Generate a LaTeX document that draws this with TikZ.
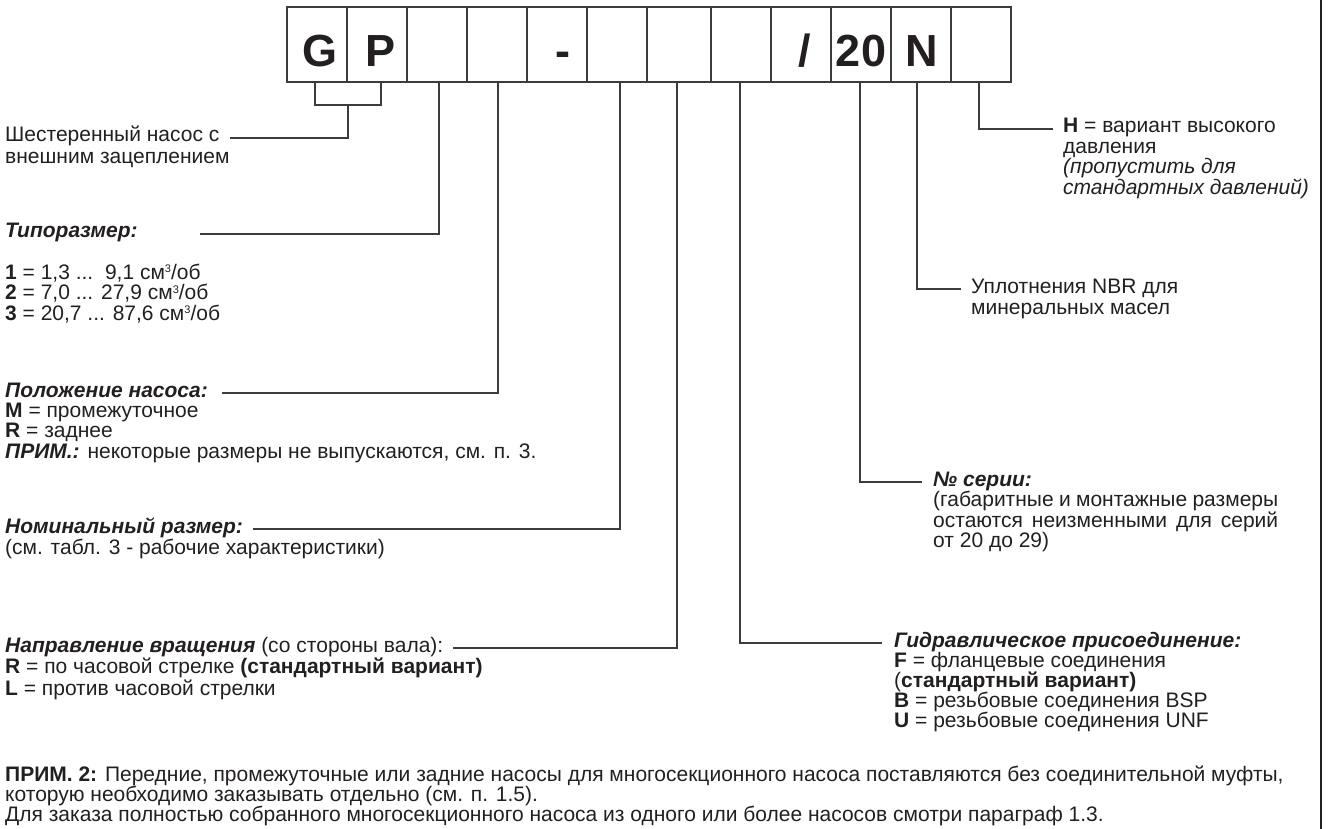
\documentclass[tikz,border=0pt]{standalone}
\usepackage{fontspec}
\setmainfont{Liberation Sans}
\definecolor{ink}{HTML}{231F20}
\definecolor{rulec}{HTML}{3C3C3C}
\newcommand{\cmcub}{{\fontsize{11}{11}\selectfont\raisebox{6.5pt}{3}}}
\begin{document}
\begin{tikzpicture}[x=1pt,y=-1pt,
  txt/.style={font=\fontsize{21}{21.5}\selectfont, anchor=base west, inner sep=0pt, text=ink},
  cell/.style={draw=rulec, line width=1.3pt, minimum height=75pt, inner sep=0pt, minimum width=60pt},
  big/.style={font=\fontsize{45}{45}\selectfont\bfseries, anchor=base, inner sep=0pt, text=ink},
  conn/.style={draw=rulec, line width=1.1pt},
]
\useasboundingbox (0,0) rectangle (1336,829);

% code boxes
\node[cell] (b1) at (317,44.5) {};
\node[cell] (b2) at (377,44.5) {};
\node[cell] (b3) at (437,44.5) {};
\node[cell] (b4) at (497,44.5) {};
\node[cell] (b5) at (557,44.5) {};
\node[cell] (b6) at (617,44.5) {};
\node[cell, minimum width=64pt] (b7) at (679,44.5) {};
\node[cell] (b8) at (741,44.5) {};
\node[cell] (b9) at (801,44.5) {};
\node[cell] (b10) at (861,44.5) {};
\node[cell] (b11) at (921,44.5) {};
\node[cell] (b12) at (981,44.5) {};

\node[big] (lG) at (320,67) {G};
\node[big] (lP) at (381,67) {P};
\node[big] (lD) at (563,67) {-};
\node[big] (lS) at (805,67) {/};
\node[big] (l20) at (861,67) {20};
\node[big] (lN) at (922,67) {N};

% left column texts
\node[txt] (gp1) at (5,142) {Шестеренный насос с};
\node[txt] (gp2) at (5,164) {внешним зацеплением};

\node[txt] (t1) at (5,238) {\textbf{\textit{Типоразмер:}}};
\node[txt] (t2) at (5,279) {\textbf{1} = 1,3 ...\ \ 9,1 см\cmcub/об};
\node[txt] (t3) at (5,299.5) {\textbf{2} = 7,0 ... 27,9 см\cmcub/об};
\node[txt] (t4) at (5,320) {\textbf{3} = 20,7 ... 87,6 см\cmcub/об};

\node[txt] (p1) at (5,397) {\textbf{\textit{Положение насоса:}}};
\node[txt] (p2) at (5,417) {\textbf{M} = промежуточное};
\node[txt] (p3) at (5,437.5) {\textbf{R} = заднее};
\node[txt] (p4) at (5,458) {\textbf{\textit{ПРИМ.:}} некоторые размеры не выпускаются, см. п. 3.};

\node[txt] (n1) at (5,533) {\textbf{\textit{Номинальный размер:}}};
\node[txt] (n2) at (5,554) {(см. табл. 3 - рабочие характеристики)};

\node[txt] (d1) at (5,652) {\textbf{\textit{Направление вращения}} (со стороны вала):};
\node[txt] (d2) at (5,673.5) {\textbf{R} = по часовой стрелке \textbf{(стандартный вариант)}};
\node[txt] (d3) at (5,695) {\textbf{L} = против часовой стрелки};

% right column texts
\node[txt] (h1) at (1063,133) {\textbf{H} = вариант высокого};
\node[txt] (h2) at (1063,153.5) {давления};
\node[txt] (h3) at (1063,174) {\textit{(пропустить для}};
\node[txt] (h4) at (1063,194.5) {\textit{стандартных давлений)}};

\node[txt] (u1) at (971,293) {Уплотнения NBR для};
\node[txt] (u2) at (971,314) {минеральных масел};

\node[txt] (s1) at (933,486) {\textbf{\textit{№ серии:}}};
\node[txt] (s2) at (933,506.5) {\makebox[345pt][s]{(габаритные и монтажные размеры}};
\node[txt] (s3) at (933,527) {\makebox[345pt][s]{остаются неизменными для серий}};
\node[txt] (s4) at (933,547.5) {от 20 до 29)};

\node[txt] (g1) at (894,647) {\textbf{\textit{Гидравлическое присоединение:}}};
\node[txt] (g2) at (894,667) {\textbf{F} = фланцевые соединения};
\node[txt] (g3) at (894,687) {(\textbf{стандартный вариант)}};
\node[txt] (g4) at (894,707) {\textbf{B} = резьбовые соединения BSP};
\node[txt] (g5) at (894,727) {\textbf{U} = резьбовые соединения UNF};

% bottom notes
\node[txt] (m1) at (5,781) {\textbf{ПРИМ. 2:} Передние, промежуточные или задние насосы для многосекционного насоса поставляются без соединительной муфты,};
\node[txt] (m2) at (5,801) {которую необходимо заказывать отдельно (см. п. 1.5).};
\node[txt] (m3) at (5,821) {Для заказа полностью собранного многосекционного насоса из одного или более насосов смотри параграф 1.3.};

% connector end points
\coordinate (gpbar) at (348,105);
\coordinate (cGP) at (230,138);
\coordinate (c3) at (200,234);
\path (p1.base east) ++(14,-4) coordinate (c4);
\path (n1.base east) ++(10,-4) coordinate (c6);
\path (d1.base east) ++(9,-4) coordinate (c7);
\coordinate (c8) at (882,643);
\coordinate (c10) at (922,482);
\coordinate (c11) at (961,289);
\coordinate (c12) at (1053,129);

% connectors
\draw[conn] ([xshift=-2pt]b1.south) |- (gpbar) -| ([xshift=4pt]b2.south);
\draw[conn] (gpbar) |- (cGP);
\draw[conn] ([xshift=2pt]b3.south) |- (c3);
\draw[conn] ([xshift=1pt]b4.south) |- (c4);
\draw[conn] ([xshift=3pt]b6.south) |- (c6);
\draw[conn] ([xshift=-2pt]b7.south) |- (c7);
\draw[conn] ([xshift=-1pt]b8.south) |- (c8);
\draw[conn] ([xshift=-1pt]b10.south) |- (c10);
\draw[conn] ([xshift=-4pt]b11.south) |- (c11);
\draw[conn] ([xshift=-2pt]b12.south) |- (c12);

% right frame edge
\draw[draw=ink, line width=2.4pt] (1321,0) -- (1321,829);
\end{tikzpicture}
\end{document}
